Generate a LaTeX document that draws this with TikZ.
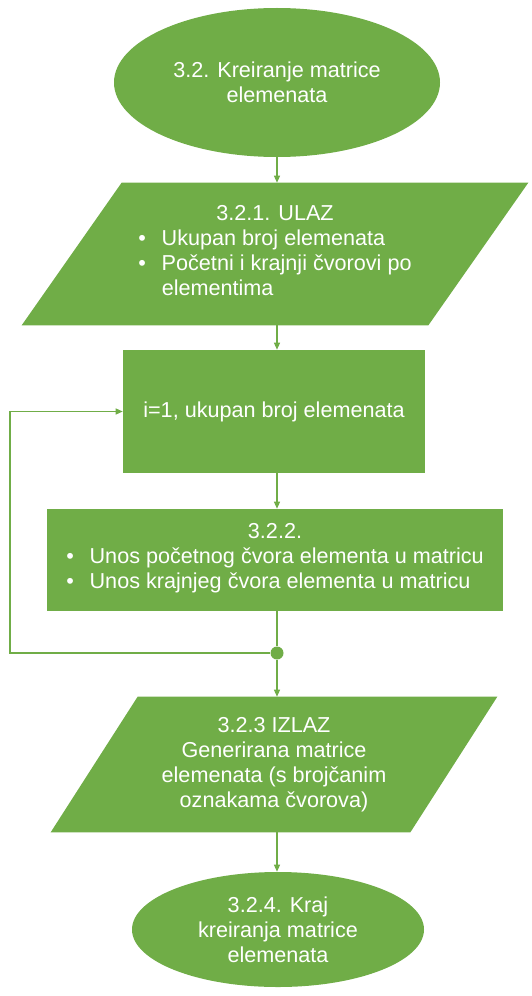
\documentclass[tikz,border=0pt]{standalone}
\usepackage{fontspec}
\setmainfont{Liberation Sans}
\usetikzlibrary{shapes.geometric,arrows.meta,backgrounds}
\definecolor{officegreen}{HTML}{70AD47}

\begin{document}
\begin{tikzpicture}[
        every node/.append style = {font = \fontsize{12.3}{14.2}\selectfont, text = white, fill = officegreen, inner sep = 0pt, align = center},
        flow/.style = {draw = officegreen, line width = 0.6pt, -{Triangle[length = 4pt, width = 3.5pt]}},
        terminal/.style = {ellipse},
        io/.style = {rectangle, fill = none},
        process/.style = {rectangle}]
            \useasboundingbox (0,0) rectangle (10.62,-19.92);
            \node[terminal, minimum width = 6.52cm, minimum height = 2.98cm] (start) at (5.54,-1.65) {3.2. Kreiranje matrice\\elemenata};
            \node[io, minimum width = 8.12cm, minimum height = 2.84cm] (in) at (5.5,-5.08) {3.2.1. ULAZ\\
                \begin{tabular}[t]{@{}l@{\hspace{9pt}}l@{}}
                    \textbullet & Ukupan broj elemenata\\
                    \textbullet & Početni i krajnji čvorovi po\\
                    & elementima
                \end{tabular}};
            \node[process, minimum width = 6.04cm, minimum height = 2.46cm] (init) at (5.48,-8.23) {i=1, ukupan broj elemenata};
            \node[process, minimum width = 9.12cm, minimum height = 2.04cm] (unos) at (5.5,-11.2) {3.2.2.\\
                \begin{tabular}[t]{@{}l@{\hspace{9pt}}l@{}}
                    \textbullet & Unos početnog čvora elementa u matricu\\
                    \textbullet & Unos krajnjeg čvora elementa u matricu
                \end{tabular}};
            \node[circle, minimum size = 0.26cm] (dot) at (5.54,-13.06) {};
            \node[io, minimum width = 7.18cm, minimum height = 2.7cm] (out) at (5.48,-15.29) {3.2.3 IZLAZ\\Generirana matrice\\elemenata (s brojčanim\\oznakama čvorova)};
            \node[terminal, minimum width = 5.84cm, minimum height = 2.3cm] (end) at (5.56,-18.59) {3.2.4. Kraj\\kreiranja matrice\\elemenata};
            \begin{scope}[on background layer]
                \fill[officegreen] ([xshift = 1cm]in.north west) -- ([xshift = 1cm]in.north east) -- ([xshift = -1cm]in.south east) -- ([xshift = -1cm]in.south west) -- cycle;
                \fill[officegreen] ([xshift = 0.87cm]out.north west) -- ([xshift = 0.87cm]out.north east) -- ([xshift = -0.87cm]out.south east) -- ([xshift = -0.87cm]out.south west) -- cycle;
            \end{scope}
            \coordinate (back) at (0.2,-13.06);
            \draw[flow] (start.south) -- (start.south |- in.north);
            \draw[flow] (start.south |- in.south) -- (start.south |- init.north);
            \draw[flow] (start.south |- init.south) -- (start.south |- unos.north);
            \draw[flow, -] (start.south |- unos.south) -- (dot);
            \draw[flow] (dot) -- (start.south |- out.north);
            \draw[flow] (start.south |- out.south) -- (start.south |- end.north);
            \draw[flow] (dot) -- (back) |- (init);
        \end{tikzpicture}
\end{document}
